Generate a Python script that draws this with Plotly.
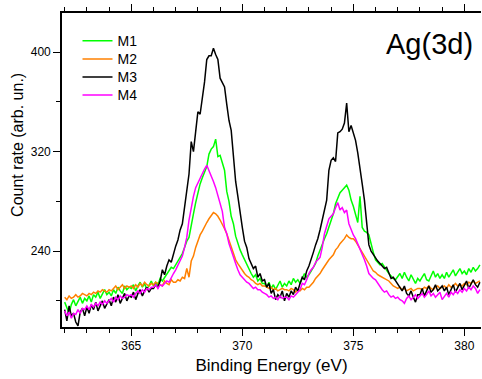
import plotly.graph_objects as go

# Binding energy grid (eV), 0.1 eV steps from 362.0 to 380.7
energy = [round(362.0 + 0.1 * i, 1) for i in range(188)]

m1 = [
    199, 194, 190, 197, 201, 196, 199, 203, 198, 202,
    200, 204, 199, 205, 203, 207, 202, 206, 209, 205,
    207, 204, 209, 206, 211, 208, 206, 212, 209, 211,
    210, 213, 208, 212, 215, 211, 214, 209, 213, 216,
    212, 215, 213, 218, 216, 219, 222, 224, 227, 226,
    229, 233, 236, 238, 243, 248, 251, 262, 270, 279,
    287, 294, 299, 304, 308, 318, 322, 324, 330, 316,
    317, 311, 305, 288, 280, 268, 262, 252, 246, 241,
    237, 233, 229, 226, 222, 219, 221, 216, 218, 214,
    214, 211, 215, 210, 213, 209, 212, 216, 211, 214,
    212, 216, 213, 218, 215, 217, 214, 218, 222, 219,
    221, 224, 227, 230, 236, 241, 246, 250, 254, 259,
    265, 270, 278, 283, 287, 289, 291, 293, 289, 281,
    276, 270, 263, 284, 259, 256, 255, 253, 245, 239,
    233, 231, 229, 230, 227, 225, 222, 220, 218, 217,
    220, 222, 218, 223, 219, 216, 221, 217, 214, 218,
    216, 219, 222, 217, 216, 220, 224, 219, 222, 218,
    221, 218, 223, 219, 222, 225, 220, 223, 226, 222,
    224, 221, 226, 223, 227, 224, 226, 229,
]

m2 = [
    203, 201, 204, 202, 203, 205, 203, 204, 206, 205,
    204, 206, 205, 207, 206, 208, 207, 209, 208, 207,
    209, 208, 210, 212, 209, 211, 213, 210, 212, 211,
    212, 210, 213, 211, 214, 212, 215, 213, 212, 214,
    213, 215, 214, 213, 212, 216, 214, 213, 217, 215,
    215, 217, 216, 219, 218, 226, 219, 232, 236, 243,
    249, 253, 256, 260, 263, 266, 269, 271, 270, 268,
    265, 262, 258, 254, 249, 243, 238, 233, 230, 227,
    225, 222, 220, 219, 217, 216, 214, 213, 214, 212,
    212, 211, 210, 211, 209, 210, 208, 209, 210, 209,
    209, 208, 210, 209, 207, 209, 208, 210, 209, 211,
    211, 213, 215, 218, 220, 222, 225, 228, 231, 233,
    235, 237, 241, 243, 246, 248, 250, 253, 251, 250,
    250, 248, 245, 242, 238, 236, 233, 230, 226, 224,
    223, 221, 220, 219, 218, 217, 216, 214, 212, 211,
    210, 211, 209, 210, 208, 209, 210, 208, 209, 210,
    210, 209, 211, 210, 212, 210, 209, 211, 212, 210,
    211, 212, 210, 213, 211, 212, 214, 212, 213, 212,
    214, 213, 215, 214, 216, 214, 215, 216,
]

m3 = [
    193, 184, 196, 188, 190, 183, 180, 191, 194, 188,
    195, 190, 197, 193, 199, 192, 196, 200, 194, 198,
    201, 196, 203, 199, 205, 198, 202, 206, 200, 204,
    203, 207, 201, 206, 209, 204, 208, 211, 207, 210,
    210, 213, 211, 216, 225, 221, 228, 233, 231, 238,
    244, 249, 257, 262, 275, 288, 302, 328, 320, 336,
    352, 350, 362, 376, 394, 397, 397, 403, 398, 394,
    379, 376, 372, 358, 345, 337, 318, 296, 284, 270,
    259, 248, 243, 234, 230, 226, 228, 219, 222, 216,
    217, 211, 214, 206, 209, 201, 205, 203, 208, 200,
    206, 203, 208, 205, 211, 208, 214, 219, 217, 224,
    228, 233, 239, 245, 250, 257, 265, 273, 281, 305,
    313, 315, 312, 335, 336, 338, 343, 359, 336, 341,
    334, 329, 319, 308, 294, 281, 262, 245, 240, 237,
    235, 232, 230, 228, 226, 227, 222, 218, 219, 216,
    213, 210, 208, 212, 206, 204, 208, 203, 199, 205,
    205, 210, 204, 208, 212, 207, 209, 213, 208, 210,
    212, 208, 211, 205, 209, 213, 207, 211, 214, 209,
    212, 216, 210, 214, 217, 213, 211, 215,
]

m4 = [
    192, 188, 191, 186, 190, 189, 193, 190, 194, 193,
    196, 193, 197, 195, 198, 196, 199, 197, 200, 198,
    200, 202, 199, 203, 201, 204, 202, 203, 205, 204,
    205, 203, 206, 208, 206, 209, 207, 210, 209, 211,
    211, 213, 210, 213, 212, 214, 216, 215, 219, 222,
    225, 229, 232, 236, 243, 251, 265, 276, 284, 291,
    295, 299, 303, 306, 309, 305, 300, 296, 291, 285,
    279, 272, 259, 254, 246, 240, 235, 230, 225, 221,
    219, 217, 215, 214, 212, 210, 211, 209, 209, 207,
    206, 205, 203, 204, 202, 203, 201, 204, 202, 203,
    203, 201, 204, 203, 205, 207, 209, 214, 213, 217,
    222, 225, 227, 231, 233, 235, 243, 254, 260, 266,
    268, 270, 275, 279, 273, 275, 271, 273, 262, 257,
    253, 250, 246, 241, 238, 233, 228, 222, 220, 218,
    217, 214, 212, 209, 207, 208, 205, 203, 204, 202,
    203, 201, 200, 198, 202, 204, 201, 203, 205, 202,
    204, 206, 203, 205, 208, 204, 206, 203, 205, 207,
    201, 204, 206, 203, 207, 205, 208, 206, 209, 207,
    210, 208, 211, 209, 212, 210, 206, 209,
]

series_names = ["M1", "M2", "M3", "M4"]
series_values = [m1, m2, m3, m4]
series_colors = ["#00ff00", "#ff8000", "#000000", "#ff00ff"]

x_ticks = [365, 370, 375, 380]
y_ticks = [240, 320, 400]

FONT = "Liberation Sans, Arial, sans-serif"

legend_ids = ["legend", "legend2", "legend3", "legend4"]
legend_y = [0.961, 0.9035, 0.846, 0.7885]

fig = go.Figure()
for name, vals, col, lid in zip(series_names, series_values, series_colors, legend_ids):
    fig.add_trace(go.Scatter(x=energy, y=vals, mode="lines", name=name,
                             legend=lid, line=dict(color=col, width=1.5)))

legend_common = dict(x=0.037, xanchor="left", yanchor="top",
                     bgcolor="rgba(0,0,0,0)", font=dict(size=14, family=FONT))
layout_legends = {lid: dict(y=ly, **legend_common) for lid, ly in zip(legend_ids, legend_y)}

fig.update_layout(
    width=482, height=379,
    margin=dict(l=62, r=1, t=13, b=52),
    paper_bgcolor="white", plot_bgcolor="white",
    font=dict(family=FONT, color="black", size=12),
    showlegend=True,
    annotations=[
        dict(text="Ag(3d)", xref="paper", yref="paper",
             x=0.876, y=0.901, xanchor="center", yanchor="middle",
             showarrow=False, font=dict(size=29, family=FONT)),
        dict(text="Count rate (arb. un.)", xref="paper", yref="paper",
             x=-0.105, y=0.58, xanchor="center", yanchor="middle",
             textangle=-90, showarrow=False, font=dict(size=16, family=FONT)),
    ],
    **layout_legends,
)

fig.update_xaxes(
    range=[361.88, 380.75], tickvals=x_ticks, ticks="outside", ticklen=7,
    tickwidth=1.2, tickcolor="black", showline=True, linecolor="black",
    linewidth=1.6, mirror="ticks", showgrid=False, zeroline=False,
    minor=dict(dtick=1, tick0=360, ticks="outside", ticklen=4, tickcolor="black",
               tickwidth=1.2, showgrid=False),
    tickfont=dict(size=12),
    title=dict(text="Binding Energy (eV)", font=dict(size=17), standoff=7),
)
fig.update_yaxes(
    range=[179, 431.4], tickvals=y_ticks, ticks="outside", ticklen=7,
    tickwidth=1.2, tickcolor="black", showline=True, linecolor="black",
    linewidth=1.6, showgrid=False, zeroline=False,
    minor=dict(tickvals=[200, 280, 360], ticks="outside", ticklen=4,
               tickcolor="black", tickwidth=1.2, showgrid=False),
    tickfont=dict(size=12),
)

fig.write_html("out.html", config={"displayModeBar": False},
               post_script="document.body.style.margin='0';document.body.style.overflow='hidden';")
